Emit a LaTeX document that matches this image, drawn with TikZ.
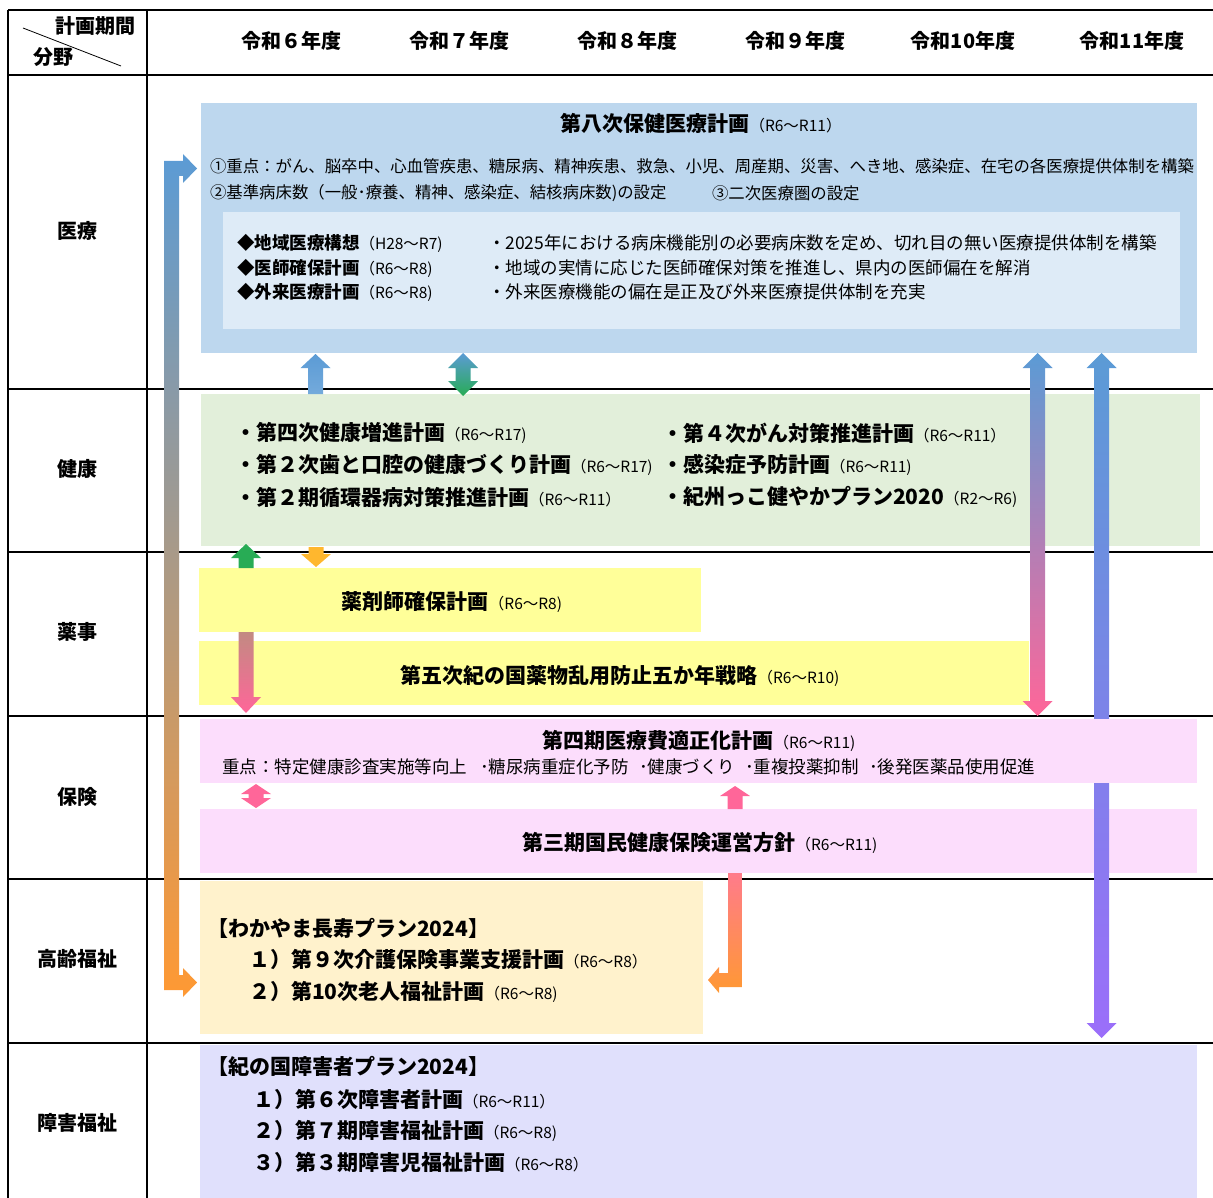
\documentclass[tikz,border=0pt]{standalone}
\usepackage{fontspec}
\setmainfont{Noto Sans CJK JP}
\definecolor{cMed}{HTML}{BDD7EE}
\definecolor{cMedIn}{HTML}{DEEBF7}
\definecolor{cHlth}{HTML}{E2EFDA}
\definecolor{cYak}{HTML}{FFFF99}
\definecolor{cHok}{HTML}{FCDDFC}
\definecolor{cKor}{HTML}{FFF2CC}
\definecolor{cSho}{HTML}{E0E0FC}
\definecolor{arBlue}{HTML}{5B9BD5}
\definecolor{arGreen}{HTML}{28AC55}
\definecolor{arYel}{HTML}{FFB72E}
\definecolor{arPink}{HTML}{FF6699}
\definecolor{arPurple}{HTML}{9B6EFA}
\definecolor{arOrange}{HTML}{FF9933}
\definecolor{arTan}{HTML}{C28A82}
\definecolor{arRose}{HTML}{FF7B8B}
\definecolor{arMid}{HTML}{A897C2}
\newcommand\FntT{\fontsize{20}{24}\selectfont\bfseries}
\newcommand\FntB{\fontsize{21}{25}\selectfont\bfseries}
\newcommand\FntS{\fontsize{15.5}{18}\selectfont\mdseries}
\newcommand\FntM{\fontsize{17.5}{20}\selectfont\bfseries}
\newcommand\FntR{\fontsize{16.4}{19}\selectfont\mdseries}
\newcommand\FntQ{\fontsize{17.5}{20}\selectfont\mdseries}
% block arrows: x centre, tip/top y, bottom/tip y, head length, shading options
\newcommand\BArrUp[5]{\shade[#5] ({#1-7.5},#3) -- ({#1-7.5},{#2+#4}) -- ({#1-15},{#2+#4}) -- (#1,#2) -- ({#1+15},{#2+#4}) -- ({#1+7.5},{#2+#4}) -- ({#1+7.5},#3) -- cycle;}
\newcommand\BArrDown[5]{\shade[#5] ({#1-7.5},#2) -- ({#1-7.5},{#3-#4}) -- ({#1-15},{#3-#4}) -- (#1,#3) -- ({#1+15},{#3-#4}) -- ({#1+7.5},{#3-#4}) -- ({#1+7.5},#2) -- cycle;}
\newcommand\BArrBoth[5]{\shade[#5] ({#1-7.5},{#3-#4}) -- ({#1-7.5},{#2+#4}) -- ({#1-15},{#2+#4}) -- (#1,#2) -- ({#1+15},{#2+#4}) -- ({#1+7.5},{#2+#4}) -- ({#1+7.5},{#3-#4}) -- ({#1+15},{#3-#4}) -- (#1,#3) -- ({#1-15},{#3-#4}) -- cycle;}
\tikzset{
  lbl/.style={inner sep=0pt, outer sep=0pt, anchor=west},
  ctr/.style={inner sep=0pt, outer sep=0pt, anchor=center},
  boxsty/.style={inner sep=0pt, outer sep=0pt, draw=none, rectangle},
  rule/.style={line width=1.6pt, black},
}
\begin{document}
\begin{tikzpicture}[x=1pt,y=-1pt]
\useasboundingbox (0,0) rectangle (1213,1198);
% table rules
\draw[rule] (8,10) -- (1213,10);
\draw[rule] (8,75) -- (1213,75);
\foreach \yy in {389,552,716,879,1043} \draw[rule] (8,\yy) -- (1213,\yy);
\draw[rule] (8,10) -- (8,1198);
\draw[rule] (147,10) -- (147,1198);
\draw[line width=0.8pt] (23,28) -- (121,66);
% header
\node[lbl] (hdA) at (55,26) {\FntT 計画期間};
\node[lbl] (hdB) at (33,57) {\FntT 分野};
\node[ctr] (y6) at (291,41) {\FntT 令和６年度};
\node[ctr] (y7) at (459,41) {\FntT 令和７年度};
\node[ctr] (y8) at (627,41) {\FntT 令和８年度};
\node[ctr] (y9) at (795,41) {\FntT 令和９年度};
\node[ctr] (y10) at (963,41) {\FntT 令和10年度};
\node[ctr] (y11) at (1132,41) {\FntT 令和11年度};
% row labels
\node[ctr] (rMed) at (77,231) {\FntT 医療};
\node[ctr] (rHl) at (77,469) {\FntT 健康};
\node[ctr] (rYk) at (77,632) {\FntT 薬事};
\node[ctr] (rHk) at (77,797) {\FntT 保険};
\node[ctr] (rKr) at (77,959) {\FntT 高齢福祉};
\node[ctr] (rSh) at (77,1123) {\FntT 障害福祉};
% boxes
\node[boxsty, fill=cMed, minimum width=996pt, minimum height=250pt] (med) at (699,228) {};
\node[boxsty, fill=cMedIn, minimum width=957pt, minimum height=117pt] (medin) at (701.5,270.5) {};
\node[boxsty, fill=cHlth, minimum width=999pt, minimum height=152pt] (hlth) at (700.5,470) {};
\node[boxsty, fill=cYak, minimum width=502pt, minimum height=64pt] (yak1) at (450,600) {};
\node[boxsty, fill=cYak, minimum width=830pt, minimum height=64pt] (yak2) at (614,673) {};
\node[boxsty, fill=cHok, minimum width=997pt, minimum height=64pt] (hok2) at (698.5,841) {};
\node[boxsty, fill=cKor, minimum width=503pt, minimum height=153pt] (kor) at (451.5,957.5) {};
\node[boxsty, fill=cSho, minimum width=997pt, minimum height=153pt] (sho) at (698.5,1121.5) {};
% long arrow behind hok1
\BArrBoth{1101.5}{353}{1038}{15}{top color=arBlue,bottom color=arPurple}
\node[boxsty, fill=cHok, minimum width=997pt, minimum height=64pt] (hok1) at (698.5,751) {};
% other arrows
\shade[top color=arBlue, middle color=arMid, bottom color=arOrange]
  (164,161) -- (183,161) -- (183,154) -- (197,168.5) -- (183,183) -- (183,176) -- (179,176)
  -- (179,975) -- (183,975) -- (183,968) -- (197,982.5) -- (183,997) -- (183,990) -- (164,990) -- cycle;
\shade[top color=arRose, bottom color=arOrange]
  (728,873) -- (742,873) -- (742,987) -- (719,987) -- (719,993) -- (708,980) -- (719,967) -- (719,973) -- (728,973) -- cycle;
\BArrBoth{1037.5}{353}{716}{15}{top color=arBlue,bottom color=arPink}
\BArrUp{315.5}{354}{394}{14}{top color=arBlue,bottom color=arBlue!85!white}
\BArrBoth{463}{353}{396}{15}{top color=arBlue,bottom color=arGreen}
\BArrUp{246}{544}{568}{14}{top color=arGreen,bottom color=arGreen}
\BArrDown{316}{547}{567}{13}{top color=arYel,bottom color=arYel}
\BArrDown{246}{632}{713}{16}{top color=arTan,bottom color=arPink}
\BArrBoth{256}{784}{808}{10}{top color=arPink,bottom color=arPink}
\BArrUp{735}{786}{809}{10}{top color=arPink,bottom color=arPink}
% medical box text
\node[ctr] (tMed) at (701,123) {{\FntB 第八次保健医療計画}{\FntS（R6～R11）}};
\node[lbl] (tM1) at (210,166) {\FntR ①重点：がん、脳卒中、心血管疾患、糖尿病、精神疾患、救急、小児、周産期、災害、へき地、感染症、在宅の各医療提供体制を構築};
\node[lbl] (tM2) at (210,193) {\FntR ②基準病床数（一般･療養、精神、感染症、結核病床数)の設定};
\node[lbl] (tM3) at (712,193) {\FntR ③二次医療圏の設定};
\node[lbl] (iL1) at (237,243) {{\FntM ◆地域医療構想}{\FntS（H28～R7)}};
\node[lbl] (iL2) at (237,268) {{\FntM ◆医師確保計画}{\FntS（R6～R8)}};
\node[lbl] (iL3) at (237,292) {{\FntM ◆外来医療計画}{\FntS（R6～R8)}};
\node[lbl] (iR1) at (488,243) {\FntQ ・2025年における病床機能別の必要病床数を定め、切れ目の無い医療提供体制を構築};
\node[lbl] (iR2) at (488,268) {\FntQ ・地域の実情に応じた医師確保対策を推進し、県内の医師偏在を解消};
\node[lbl] (iR3) at (488,292) {\FntQ ・外来医療機能の偏在是正及び外来医療提供体制を充実};
% health box text
\node[lbl] (hL1) at (235,433) {{\FntB ・第四次健康増進計画}{\FntS（R6～R17)}};
\node[lbl] (hL2) at (235,465) {{\FntB ・第２次歯と口腔の健康づくり計画}{\FntS（R6～R17)}};
\node[lbl] (hL3) at (235,497) {{\FntB ・第２期循環器病対策推進計画}{\FntS（R6～R11）}};
\node[lbl] (hR1) at (662,433) {{\FntB ・第４次がん対策推進計画}{\FntS（R6～R11）}};
\node[lbl] (hR2) at (662,465) {{\FntB ・感染症予防計画}{\FntS（R6～R11)}};
\node[lbl] (hR3) at (662,497) {{\FntB ・紀州っこ健やかプラン2020}{\FntS（R2～R6)}};
% pharmacy
\node[ctr] (tY1) at (452,602) {{\FntB 薬剤師確保計画}{\FntS（R6～R8)}};
\node[ctr] (tY2) at (620,676) {{\FntB 第五次紀の国薬物乱用防止五か年戦略}{\FntS（R6～R10)}};
% insurance
\node[ctr] (tH1) at (699,741) {{\FntB 第四期医療費適正化計画}{\FntS（R6～R11)}};
\node[lbl] (tHa) at (222,767) {\FntQ 重点：特定健康診査実施等向上};
\node[lbl] (tHb) at (480,767) {\FntQ ･糖尿病重症化予防};
\node[lbl] (tHc) at (639,767) {\FntQ ･健康づくり};
\node[lbl] (tHd) at (745,767) {\FntQ ･重複投薬抑制};
\node[lbl] (tHe) at (869,767) {\FntQ ･後発医薬品使用促進};
\node[ctr] (tH2) at (700,843) {{\FntB 第三期国民健康保険運営方針}{\FntS（R6～R11)}};
% elderly
\node[lbl] (tK0) at (207,928) {\FntB 【わかやま長寿プラン2024】};
\node[lbl] (tK1) at (249,959) {{\FntB １）第９次介護保険事業支援計画}{\FntS（R6～R8）}};
\node[lbl] (tK2) at (249,992) {{\FntB ２）第10次老人福祉計画}{\FntS（R6～R8)}};
% disability
\node[lbl] (tS0) at (207,1066) {\FntB 【紀の国障害者プラン2024】};
\node[lbl] (tS1) at (253,1099) {{\FntB １）第６次障害者計画}{\FntS（R6～R11）}};
\node[lbl] (tS2) at (253,1131) {{\FntB ２）第７期障害福祉計画}{\FntS（R6～R8)}};
\node[lbl] (tS3) at (253,1162) {{\FntB ３）第３期障害児福祉計画}{\FntS（R6～R8）}};
\end{tikzpicture}
\end{document}
